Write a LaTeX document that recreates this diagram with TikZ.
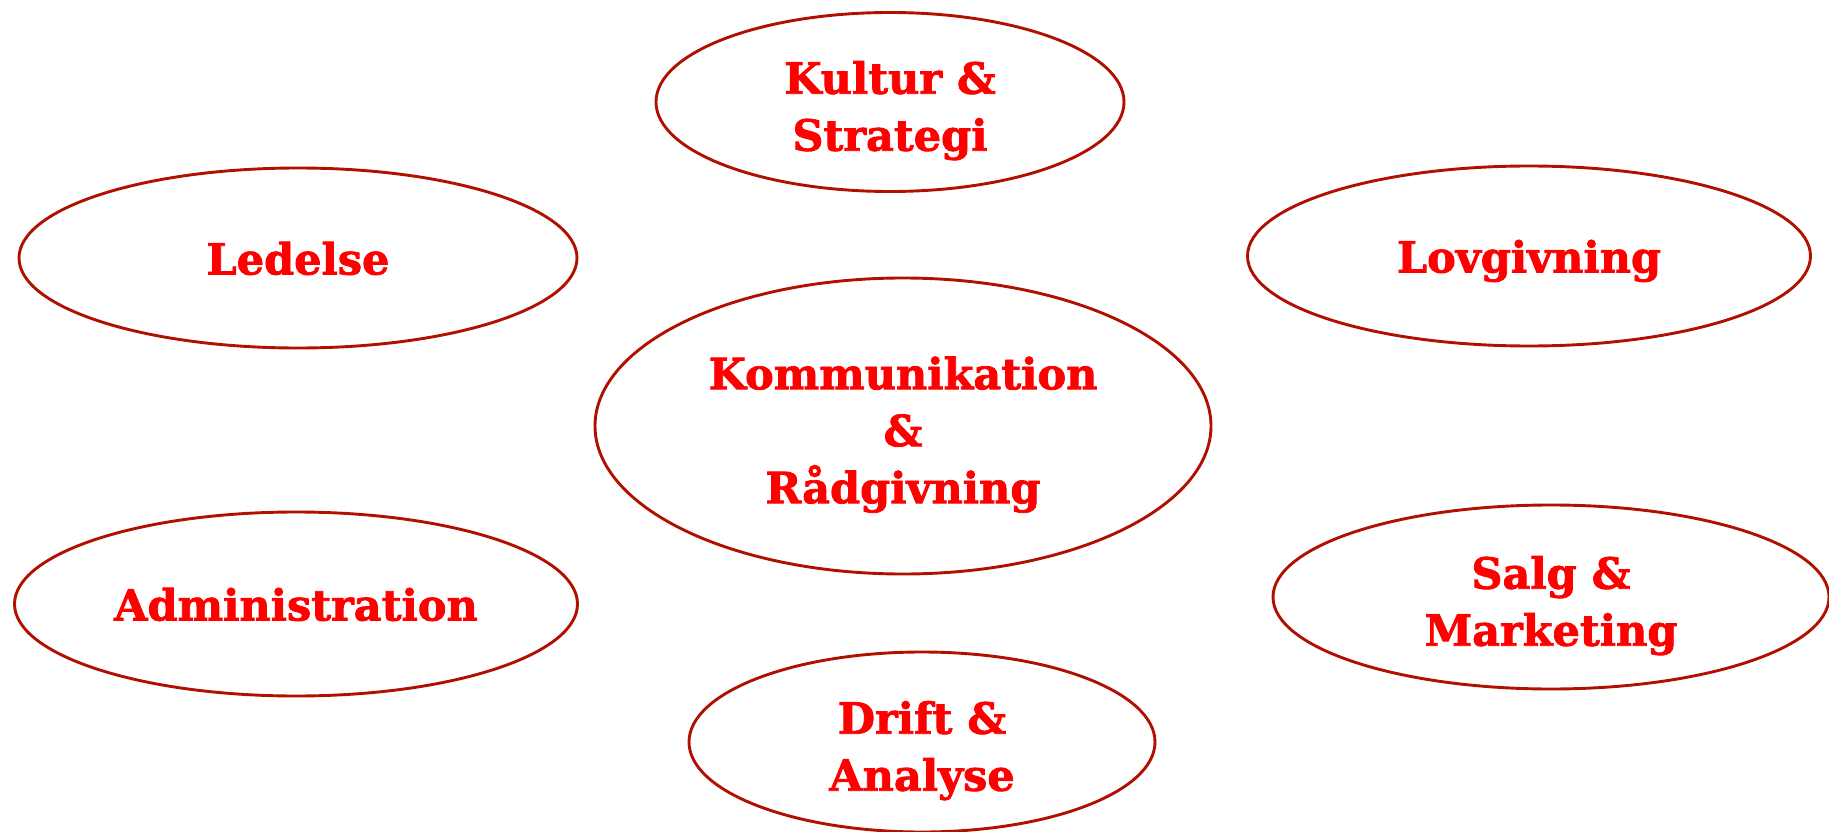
\documentclass[tikz,border=0pt]{standalone}
\usepackage{fontspec}
\newfontfamily\rock{DejaVu Serif}[BoldFeatures={FakeBold=1.8}]
\usetikzlibrary{shapes.geometric}
\definecolor{ringred}{RGB}{176,16,0}
\definecolor{txtred}{RGB}{255,0,0}
\newcommand\uplift{\rule{0pt}{50pt}}
\tikzset{
  bubble/.style={ellipse, draw=ringred, line width=2.9pt, inner sep=0pt,
    text=txtred, align=center, font=\rock\bfseries\fontsize{43}{57}\selectfont},
  oneline/.style={text height=33pt, text depth=0pt}
}
\begin{document}
\begin{tikzpicture}[x=1pt,y=-1pt]
\useasboundingbox (0,0) rectangle (1829,832);
\node[bubble, minimum width=468pt, minimum height=179pt] (kultur) at (890,102) {\uplift Kultur \&\\Strategi};
\node[bubble, oneline, minimum width=558pt, minimum height=180pt] (ledelse) at (298,258) {Ledelse};
\node[bubble, oneline, minimum width=563pt, minimum height=180pt] (lov) at (1529,256) {Lovgivning};
\node[bubble, minimum width=616pt, minimum height=296pt] (komm) at (903,426) {\uplift Kommunikation\\\&\\Rådgivning};
\node[bubble, oneline, minimum width=563pt, minimum height=184pt] (admin) at (296,604) {Administration};
\node[bubble, minimum width=556pt, minimum height=184pt] (salg) at (1551,597) {\uplift Salg \&\\Marketing};
\node[bubble, minimum width=466pt, minimum height=180pt] (drift) at (922,742) {\uplift Drift \&\\Analyse};
\end{tikzpicture}
\end{document}
